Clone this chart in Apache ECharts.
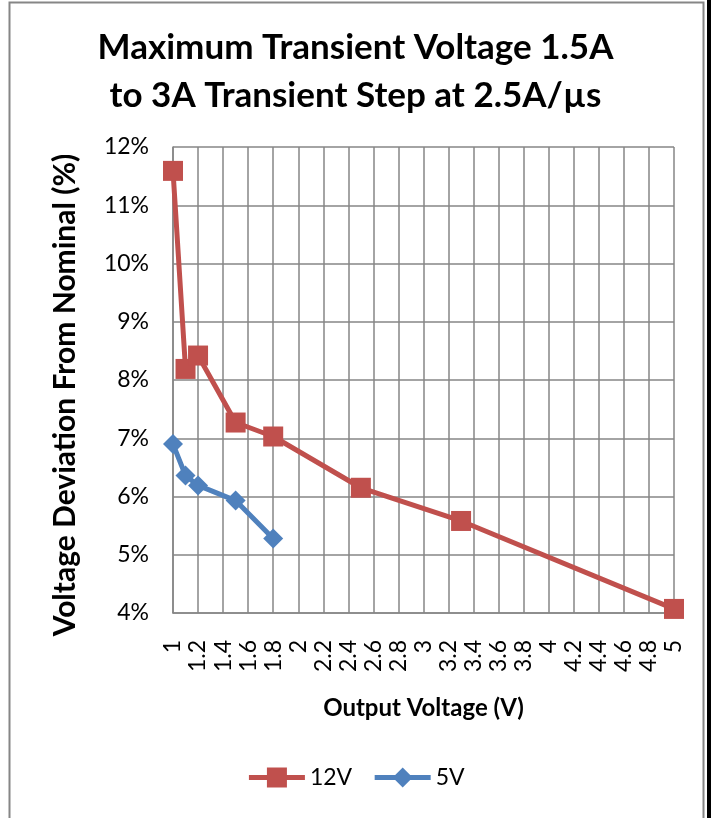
<!DOCTYPE html>
<html>
<head>
<meta charset="utf-8">
<script src="https://cdn.jsdelivr.net/npm/echarts@6/dist/echarts.min.js"></script>
<style>html,body{margin:0;padding:0;background:#fff}#c{width:711px;height:818px}</style>
</head>
<body>
<div id="c"></div>
<script>
// Data (values in percent)
var xTitle = 'Output Voltage (V)';
var yTitle = 'Voltage Deviation From Nominal (%)';
var chartTitle = 'Maximum Transient Voltage 1.5A\nto 3A Transient Step at 2.5A/µs';
var seriesNames = ['12V', '5V'];
var x12V = [1, 1.1, 1.2, 1.5, 1.8, 2.5, 3.3, 5];
var y12V = [11.59, 8.19, 8.42, 7.27, 7.03, 6.15, 5.58, 4.07];
var x5V = [1, 1.1, 1.2, 1.5, 1.8];
var y5V = [6.90, 6.36, 6.19, 5.93, 5.28];

function pairs(xs, ys) { return xs.map(function (x, i) { return [x, ys[i]]; }); }

var FONT = 'Lato, "Open Sans", sans-serif';
var chart = echarts.init(document.getElementById('c'), null, { renderer: 'canvas' });
chart.setOption({
  animation: false,
  backgroundColor: '#fff',
  graphic: [
    { type: 'rect', shape: { x: 9.5, y: 2.5, width: 694, height: 830 }, style: { fill: 'none', stroke: '#868686', lineWidth: 2 }, z: -1 },
    { type: 'rect', shape: { x: 707, y: 0, width: 4, height: 818 }, style: { fill: '#000' } },
    {
      type: 'text', x: 65, y: 395, rotation: Math.PI / 2,
      style: {
        text: yTitle, fill: '#000', font: 'bold 30px ' + FONT,
        align: 'center', verticalAlign: 'middle'
      }
    }
  ],
  title: {
    text: chartTitle,
    left: 'center',
    top: 19,
    textStyle: { fontFamily: FONT, fontWeight: 'bold', fontSize: 35, lineHeight: 48, color: '#000' }
  },
  legend: {
    bottom: 24,
    left: 'center',
    itemWidth: 56,
    itemHeight: 25,
    itemGap: 20,
    lineStyle: { width: 5 },
    textStyle: { fontFamily: FONT, fontSize: 23, color: '#000' },
    data: seriesNames
  },
  grid: { left: 173, top: 147, right: 37, bottom: 205, containLabel: false },
  xAxis: {
    type: 'value', min: 1, max: 5, interval: 0.2,
    name: xTitle, nameLocation: 'middle', nameGap: 83,
    nameTextStyle: { fontFamily: FONT, fontWeight: 'bold', fontSize: 24, color: '#000' },
    axisLine: { lineStyle: { color: '#868686', width: 1.5 } },
    axisTick: { show: false },
    splitLine: { show: true, lineStyle: { color: '#868686', width: 1.5 } },
    axisLabel: { rotate: 90, margin: 27, fontFamily: FONT, fontSize: 23, color: '#000' }
  },
  yAxis: {
    type: 'value', min: 4, max: 12, interval: 1,
    axisLine: { show: true, lineStyle: { color: '#868686', width: 1.5 } },
    axisTick: { show: false },
    splitLine: { show: true, lineStyle: { color: '#868686', width: 1.5 } },
    axisLabel: { formatter: '{value}%', margin: 24, fontFamily: FONT, fontSize: 23, color: '#000' }
  },
  series: [
    {
      name: seriesNames[0], type: 'line', data: pairs(x12V, y12V),
      symbol: 'rect', symbolSize: 20,
      lineStyle: { color: '#C0504D', width: 5 },
      itemStyle: { color: '#C0504D' }
    },
    {
      name: seriesNames[1], type: 'line', data: pairs(x5V, y5V),
      symbol: 'diamond', symbolSize: 20,
      lineStyle: { color: '#4F81BD', width: 5 },
      itemStyle: { color: '#4F81BD' }
    }
  ]
});
</script>
</body>
</html>
